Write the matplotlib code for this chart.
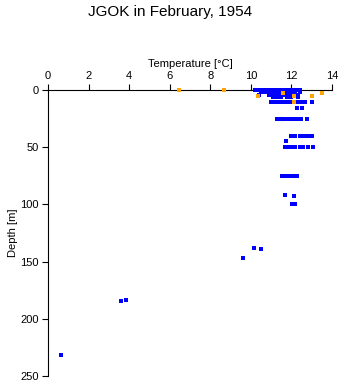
import numpy as np
import matplotlib
matplotlib.use("Agg")
import matplotlib.pyplot as plt

plt.rcParams['font.family'] = ['Liberation Sans', 'DejaVu Sans']

# temperature / depth of the blue casts
blue_temp = [10.2, 10.3, 10.4, 10.6, 10.8, 11.0, 11.1, 11.2, 11.3, 11.4, 11.5, 11.6, 11.7, 11.8, 11.9, 12.0, 12.1, 12.2, 12.3, 12.4,
             10.5, 10.7, 10.9, 11.0, 11.2, 11.4, 11.6, 11.8, 12.0, 12.2, 12.4,
             10.4, 10.9, 11.1, 11.3, 11.5, 11.7, 11.9, 12.1, 12.3,
             11.1, 11.3, 11.5, 11.8, 12.0, 12.3,
             11.0, 11.1, 11.2, 11.3, 11.4, 11.5, 11.6, 11.75, 11.85, 11.95, 12.05, 12.15, 12.25, 12.35, 12.45, 12.66, 13.0,
             12.26, 12.53,
             11.3, 11.4, 11.5, 11.6, 11.7, 11.8, 11.9, 12.0, 12.1, 12.2, 12.3, 12.45, 12.75,
             12.0, 12.2, 12.4, 12.6, 12.8, 13.0,
             11.73,
             11.7, 11.8, 11.9, 12.0, 12.1, 12.2, 12.4, 12.55, 12.8, 13.05,
             11.55, 11.65, 11.85, 11.95, 12.05, 12.15, 12.27,
             11.66, 12.14, 12.05, 12.2,
             10.17, 10.5, 9.6,
             3.6, 3.84,
             0.64]
blue_depth = [0]*20 + [2]*11 + [4]*9 + [6]*6 + [10.8]*17 + [15.5]*2 + [25.5]*13 + [40.2]*6 + [45] + [50.1]*10 \
             + [75.2]*7 + [92, 93, 100, 100] + [137.8, 139, 147] + [184.4, 183.6] + [232]

orange_temp = [6.47, 8.69, 11.6, 13.5, 10.37, 12.14, 13.0, 12.14]
orange_depth = [0, 0, 2.6, 2.6, 5.5, 5.5, 5.5, 10.8]

fig = plt.figure(figsize=(3.41, 3.84), dpi=100)
ax = fig.add_axes([48/341, 1-376/384, 284/341, 286/384])

ax.plot(blue_temp, blue_depth, 's', color='#0000ff', ms=2.2, mew=0, clip_on=False, zorder=3, antialiased=False)
ax.plot(orange_temp, orange_depth, 's', color='#ffa500', ms=2.2, mew=0, clip_on=False, zorder=4, antialiased=False)

ax.set_xlim(0, 14)
ax.set_ylim(250, 0)
ax.set_xticks([0, 2, 4, 6, 8, 10, 12, 14])
ax.set_yticks([0, 50, 100, 150, 200, 250])
ax.xaxis.set_ticks_position('top')
ax.xaxis.set_label_position('top')
ax.spines['right'].set_visible(False)
ax.spines['bottom'].set_visible(False)
for s in ['top', 'left']:
    ax.spines[s].set_linewidth(0.8)
ax.tick_params(direction='out', length=4, width=0.8, labelsize=8, pad=2.5)
ax.set_xlabel('Temperature [°C]', fontsize=8, labelpad=3)
ax.set_ylabel('Depth [m]', fontsize=8, labelpad=2)

fig.text(0.5, 1-12/384, 'JGOK in February, 1954', ha='center', va='center', fontsize=11)

fig.savefig('out.png', dpi=100)
